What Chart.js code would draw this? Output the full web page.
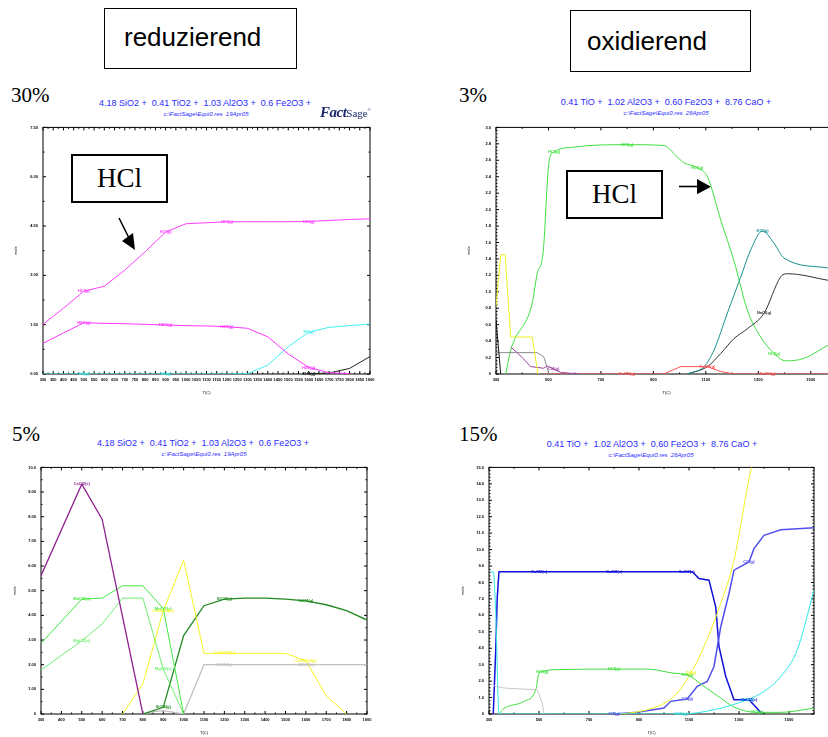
<!DOCTYPE html>
<html lang="de">
<head>
<meta charset="utf-8">
<title>HCl reduzierend / oxidierend</title>
<script src="https://cdn.jsdelivr.net/npm/chart.js@4.4.1/dist/chart.umd.min.js"></script>
<style>
  html, body { margin: 0; padding: 0; }
  body { position: relative; width: 828px; height: 737px; overflow: hidden; background: #fff; font-family: Arial, 'Liberation Sans', sans-serif; }
  .abs { position: absolute; }
  .head { border: 1.5px solid #000; box-sizing: border-box; }
  .head span { position: absolute; font-size: 26px; line-height: 26px; white-space: nowrap; }
  .pct { font-family: 'Liberation Serif', 'Times New Roman', serif; font-size: 21px; line-height: 21px; }
  .ttl { color: #2b2bff; white-space: nowrap; transform: translate(-50%, -50%); line-height: 1; }
  .ttl.main { font-size: 9px; }
  .ttl.sub { font-size: 6px; font-style: italic; }
  .hcl { border: 2px solid #000; box-sizing: border-box; background: #fff; display: flex; align-items: center; justify-content: center; font-family: 'Liberation Serif', 'Times New Roman', serif; font-size: 27px; }
  .logo { color: #1c2a6c; white-space: nowrap; line-height: 1; }
</style>
</head>
<body>

<canvas id="c30" class="abs" width="380" height="280" style="left:0px;top:120px"></canvas>
<canvas id="c3" class="abs" width="433" height="280" style="left:414px;top:120px"></canvas>
<canvas id="c5" class="abs" width="377" height="277" style="left:0px;top:460px"></canvas>
<canvas id="c15" class="abs" width="410" height="277" style="left:414px;top:460px"></canvas>

<div class="abs head" style="left:104px;top:8px;width:193px;height:61px"><span style="left:19px;top:15px">reduzierend</span></div>
<div class="abs head" style="left:570px;top:10px;width:181px;height:62px"><span style="left:16px;top:17px">oxidierend</span></div>

<div class="abs pct" style="left:11px;top:85px">30%</div>
<div class="abs pct" style="left:459px;top:85px">3%</div>
<div class="abs pct" style="left:12px;top:424px">5%</div>
<div class="abs pct" style="left:459px;top:424px">15%</div>

<div class="abs ttl main" style="left:205px;top:103px">4.18 SiO2 +&nbsp; 0.41 TiO2 +&nbsp; 1.03 Al2O3 +&nbsp; 0.6 Fe2O3 +</div>
<div class="abs ttl sub" style="left:206px;top:114px">c:\FactSage\Equi0.res&nbsp; 19Apr05</div>
<div class="abs ttl main" style="left:666px;top:102px">0.41 TiO +&nbsp; 1.02 Al2O3 +&nbsp; 0.60 Fe2O3 +&nbsp; 8.76 CaO +</div>
<div class="abs ttl sub" style="left:666px;top:113px">c:\FactSage\Equi0.res&nbsp; 26Apr05</div>
<div class="abs ttl main" style="left:203px;top:443px">4.18 SiO2 +&nbsp; 0.41 TiO2 +&nbsp; 1.03 Al2O3 +&nbsp; 0.6 Fe2O3 +</div>
<div class="abs ttl sub" style="left:204px;top:454px">c:\FactSage\Equi0.res&nbsp; 19Apr05</div>
<div class="abs ttl main" style="left:652px;top:444px">0.41 TiO +&nbsp; 1.02 Al2O3 +&nbsp; 0.60 Fe2O3 +&nbsp; 8.76 CaO +</div>
<div class="abs ttl sub" style="left:651px;top:455px">c:\FactSage\Equi0.res&nbsp; 26Apr05</div>

<div class="abs logo" style="left:320px;top:104px"><span style="font:italic bold 15px 'Liberation Serif',serif;letter-spacing:-0.5px">Fact</span><span style="font:11px 'Liberation Serif',serif">Sage</span><sup style="font-size:4px">®</sup></div>

<div class="abs hcl" style="left:71px;top:154px;width:97px;height:49px">HCl</div>
<div class="abs hcl" style="left:566px;top:170px;width:97px;height:49px">HCl</div>

<svg class="abs" width="828" height="737" style="left:0;top:0;pointer-events:none">
  <line x1="119" y1="218" x2="129" y2="238" stroke="#000" stroke-width="1.6"/>
  <polygon points="122,241 135,250 133,233" fill="#000"/>
  <line x1="679" y1="186.5" x2="698" y2="186.5" stroke="#000" stroke-width="1.6"/>
  <polygon points="697,179 711,186.7 697,194.3" fill="#000"/>
</svg>

<script>
// --- 30 % (reduzierend) ---
const t30 = [300, 400, 500, 600, 700, 800, 900, 1000, 1100, 1200, 1300, 1400, 1500, 1600, 1700, 1800, 1900]
const hcl30 = [1.51, 2.0, 2.52, 2.67, 3.16, 3.72, 4.32, 4.57, 4.60, 4.63, 4.63, 4.63, 4.63, 4.64, 4.67, 4.70, 4.72]
const h2o30 = [0.93, 1.25, 1.56, 1.54, 1.53, 1.51, 1.49, 1.47, 1.46, 1.44, 1.39, 1.13, 0.61, 0.20, 0.04, 0.01, null]
const h2_30 = [0, 0, 0, 0, 0, 0, 0, 0, 0, 0, 0.01, 0.27, 0.83, 1.27, 1.42, 1.47, 1.52]
const ch4_30 = [null, null, null, null, null, null, null, null, null, null, null, null, null, 0.01, 0.03, 0.17, 0.53]
const xTicks30 = [300, 350, 400, 450, 500, 550, 600, 650, 700, 750, 800, 850, 900, 950, 1000, 1050, 1100, 1150, 1200, 1250, 1300, 1350, 1400, 1450, 1500, 1550, 1600, 1650, 1700, 1750, 1800, 1850, 1900]
const yLab30 = ['0.00', '1.50', '3.00', '4.50', '6.00', '7.50']

// --- 3 % (oxidierend) ---
const tHcl3 = [337, 356, 438, 457, 480, 502, 521, 597, 800, 940, 991, 1017, 1067, 1106, 1157, 1207, 1258, 1309, 1360, 1405, 1474, 1566, 1600]
const hcl3 = [0, 0.29, 0.86, 1.22, 1.49, 2.58, 2.70, 2.76, 2.79, 2.78, 2.64, 2.57, 2.51, 2.40, 1.87, 1.38, 0.78, 0.45, 0.25, 0.16, 0.19, 0.35, 0.40]
const tCacl3 = [300, 318, 335, 356, 438, 460]
const cacl3 = [0.82, 1.45, 1.45, 0.45, 0.45, 0]
const tFe3 = [300, 318]
const fe3 = [0.66, 0]
const tCaoh3 = [300, 457, 482, 502]
const caoh3 = [0.26, 0.26, 0.21, 0]
const tCl2_3 = [356, 400, 432, 482, 495, 520, 546, 616]
const cl2_3 = [0.33, 0.20, 0.09, 0.07, 0.10, 0.06, 0.02, 0]
const tFecl3 = [480, 800, 940, 1004, 1106, 1157, 1207, 1335, 1600]
const fecl3 = [0, 0, 0, 0.09, 0.09, 0.03, 0, 0, 0]
const tKcl3 = [1029, 1093, 1131, 1182, 1233, 1271, 1316, 1360, 1398, 1566, 1600]
const kcl3 = [0, 0.09, 0.29, 0.74, 1.18, 1.51, 1.74, 1.59, 1.41, 1.29, 1.27]
const tNacl3 = [1029, 1106, 1157, 1207, 1258, 1322, 1385, 1411, 1566, 1600]
const nacl3 = [0, 0.09, 0.25, 0.43, 0.55, 0.74, 1.18, 1.22, 1.14, 1.12]
const xTicksOx = [300, 500, 700, 900, 1100, 1300, 1500]
const yLab3 = ['0', '0.2', '0.4', '0.6', '0.8', '1.0', '1.2', '1.4', '1.6', '1.8', '2.0', '2.2', '2.4', '2.6', '2.8', '3.0']

// --- 5 % (reduzierend) ---
const tCacl5 = [300, 500, 600, 800]
const cacl5 = [5.61, 9.32, 7.90, 0]
const tMncl5 = [300, 500, 600, 700, 800, 900, 1000]
const mncl5 = [2.86, 4.66, 4.70, 5.20, 5.20, 4.28, 0]
const tMgcl5 = [300, 500, 600, 700, 800, 900, 1000]
const mgcl5 = [1.78, 2.97, 3.65, 4.70, 4.70, 1.82, 0]
const tCasi5 = [700, 800, 900, 1000, 1100, 1200, 1500, 1600, 1700, 1800]
const casi5 = [0, 1.22, 4.19, 6.24, 2.46, 2.46, 2.46, 2.16, 0.74, 0]
const tSicl5 = [800, 900, 1000, 1100, 1200, 1300, 1400, 1500, 1600, 1700, 1800, 1900]
const sicl5 = [0, 0.27, 3.18, 4.39, 4.66, 4.70, 4.70, 4.66, 4.59, 4.43, 4.19, 3.81]
const tAl5 = [800, 850, 900, 1000, 1100, 1200, 1600, 1900]
const al5 = [0, 0.10, 0.14, 0, 2.0, 2.0, 2.0, 2.0]
const xTicks5 = [300, 400, 500, 600, 700, 800, 900, 1000, 1100, 1200, 1300, 1400, 1500, 1600, 1700, 1800, 1900]
const yLab5 = ['0', '1.00', '2.00', '3.00', '4.00', '5.00', '6.00', '7.00', '8.00', '9.00', '10.0']

// --- 15 % (oxidierend) ---
const tCacl15 = [317, 327, 333, 340, 500, 800, 1090, 1113, 1140, 1180, 1207, 1220, 1247, 1280, 1340, 1367, 1393]
const cacl15 = [0, 3.9, 7.1, 8.65, 8.65, 8.65, 8.65, 8.65, 8.24, 8.14, 6.5, 4.1, 2.28, 0.87, 0.87, 0.42, 0]
const tCl2_15 = [800, 893, 1000, 1027, 1093, 1133, 1173, 1200, 1227, 1260, 1280, 1340, 1360, 1400, 1467, 1600]
const cl2_15 = [0, 0.10, 0.36, 0.77, 0.91, 1.68, 1.98, 2.89, 5.31, 7.33, 8.75, 9.25, 10.06, 10.87, 11.21, 11.33]
const tO2_15 = [827, 933, 1040, 1107, 1160, 1227, 1280, 1347, 1380]
const o2_15 = [0, 0.26, 1.07, 2.48, 4.10, 6.73, 9.35, 14.8, 16.5]
const tHcl15 = [340, 353, 440, 487, 500, 513, 553, 800, 933, 1040, 1093, 1160, 1227, 1280, 1373, 1467, 1600]
const hcl15 = [0, 0.26, 0.77, 1.47, 2.48, 2.59, 2.69, 2.73, 2.73, 2.48, 2.38, 1.68, 0.97, 0.42, 0.10, 0.10, 0.36]
const tH2o15 = [304, 317, 327, 340, 1067, 1200, 1333, 1400, 1467, 1533, 1600]
const h2o15 = [8.65, 8.65, 6.12, 0, 0, 0.26, 0.87, 1.37, 2.28, 3.90, 7.54]
const tCaoh15 = [300, 327, 360, 493, 513, 520]
const caoh15 = [1.88, 1.68, 1.58, 1.47, 0.67, 0]
const yLab15 = ['0', '1.0', '2.0', '3.0', '4.0', '5.0', '6.0', '7.0', '8.0', '9.0', '10.0', '11.0', '12.0', '13.0', '14.0', '15.0']

// frame with inward major/minor ticks on all four sides
const frame = {
	id: 'frame',
	beforeDatasetsDraw(chart, args, opts) {
		const { ctx, chartArea: a, scales } = chart
		const walk = (scale, n, draw) => {
			const v = scale.ticks.map(t => t.value)
			const step = (v[1] - v[0]) / n
			for (let k = 0; v[0] + k * step <= scale.max + 1e-9; k++) {
				draw(scale.getPixelForValue(v[0] + k * step), k % n === 0 ? 3 : 1.5)
			}
		}
		ctx.save()
		ctx.strokeStyle = '#000'
		ctx.lineWidth = 1
		ctx.strokeRect(a.left, a.top, a.right - a.left, a.bottom - a.top)
		ctx.beginPath()
		walk(scales.x, opts.minorX, (p, len) => {
			ctx.moveTo(p, a.bottom); ctx.lineTo(p, a.bottom - len)
			ctx.moveTo(p, a.top); ctx.lineTo(p, a.top + len)
		})
		walk(scales.y, opts.minorY, (p, len) => {
			ctx.moveTo(a.left, p); ctx.lineTo(a.left + len, p)
			ctx.moveTo(a.right, p); ctx.lineTo(a.right - len, p)
		})
		ctx.stroke()
		ctx.restore()
	},
}

// FactSage style species names sitting on the curves
const tags = {
	id: 'tags',
	afterDatasetsDraw(chart) {
		const { ctx } = chart
		ctx.save()
		ctx.font = 'bold 4px Arial'
		ctx.textAlign = 'center'
		ctx.textBaseline = 'middle'
		chart.data.datasets.forEach((ds, i) => {
			if (!ds.tags) return
			const pts = chart.getDatasetMeta(i).data
			ctx.fillStyle = ds.borderColor
			ds.tags.forEach(k => pts[k] && ctx.fillText(ds.label, pts[k].x, pts[k].y))
		})
		ctx.restore()
	},
}

function makeChart(id, cfg) {
	const datasets = cfg.series.map(s => ({
		label: s.name,
		data: s.x.map((v, i) => ({ x: v, y: s.y[i] })),
		borderColor: s.color,
		borderWidth: s.width || 1,
		pointRadius: 0,
		tension: 0,
		cubicInterpolationMode: s.smooth ? 'monotone' : 'default',
		tags: s.tags,
	}))
	const yVals = cfg.yLabels.map(Number)
	const small = { size: 4, weight: 'bold', family: 'Arial' }
	return new Chart(document.getElementById(id), {
		type: 'line',
		data: { datasets },
		options: {
			responsive: false,
			animation: false,
			events: [],
			layout: { padding: cfg.pad },
			plugins: {
				legend: { display: false },
				tooltip: { enabled: false },
				frame: { minorX: cfg.minorX, minorY: cfg.minorY },
			},
			scales: {
				x: {
					type: 'linear',
					min: cfg.xMin,
					max: cfg.xMax,
					afterBuildTicks: s => { s.ticks = cfg.xTicks.map(v => ({ value: v })) },
					afterFit: s => { s.height = cfg.xh },
					grid: { display: false, drawTicks: false },
					border: { display: false },
					ticks: { autoSkip: false, maxRotation: 0, padding: 3, font: small, color: '#000', callback: v => String(v) },
					title: { display: true, text: 'T(C)', font: { size: 4, family: 'Arial' }, color: '#000', padding: cfg.xTitlePad },
				},
				y: {
					type: 'linear',
					min: yVals[0],
					max: yVals[yVals.length - 1],
					afterBuildTicks: s => { s.ticks = yVals.map(v => ({ value: v })) },
					afterFit: s => { s.width = cfg.yw },
					grid: { display: false, drawTicks: false },
					border: { display: false },
					ticks: { autoSkip: false, padding: 5, font: small, color: '#000', callback: (v, i) => cfg.yLabels[i] },
					title: { display: true, text: 'mole', font: { size: 4, family: 'Arial' }, color: '#000', padding: 1 },
				},
			},
		},
		plugins: [frame, tags],
	})
}

makeChart('c30', {
	pad: { left: 12, top: 7, right: 10, bottom: 0 }, yw: 31, xh: 26, xTitlePad: 5,
	xMin: 300, xMax: 1900, xTicks: xTicks30, yLabels: yLab30, minorX: 2, minorY: 2,
	series: [
		{ name: 'HCl(g)', x: t30, y: hcl30, color: '#ff40ff', tags: [2, 6, 9, 13] },
		{ name: 'H2O(g)', x: t30, y: h2o30, color: '#ff33ff', tags: [2, 6, 9, 13] },
		{ name: 'H2(g)', x: t30, y: h2_30, color: '#40f0f0', tags: [2, 6, 13] },
		{ name: 'CH4(g)', x: t30, y: ch4_30, color: '#222222', tags: [13] },
	],
})

makeChart('c3', {
	pad: { left: 51, top: 7, right: 10, bottom: 0 }, yw: 31, xh: 26, xTitlePad: 5,
	xMin: 300, xMax: 1600, xTicks: xTicksOx, yLabels: yLab3, minorX: 2, minorY: 5,
	series: [
		{ name: 'CaCl2(s)', x: tCacl3, y: cacl3, color: '#f0f020' },
		{ name: 'Fe(s)', x: tFe3, y: fe3, color: '#111111' },
		{ name: 'CaClOH(s)', x: tCaoh3, y: caoh3, color: '#8c8c8c' },
		{ name: 'Cl2(g)', x: tCl2_3, y: cl2_3, color: '#a040a0', tags: [5] },
		{ name: 'FeCl3(g)', x: tFecl3, y: fecl3, color: '#ff5050', tags: [1, 4, 7] },
		{ name: 'KCl(g)', x: tKcl3, y: kcl3, color: '#1a9090', smooth: true, tags: [6] },
		{ name: 'NaCl(g)', x: tNacl3, y: nacl3, color: '#333333', smooth: true, tags: [5] },
		{ name: 'HCl(g)', x: tHcl3, y: hcl3, color: '#40e040', smooth: true, tags: [6, 8, 12, 18] },
	],
})

makeChart('c5', {
	pad: { left: 11, top: 7, right: 10, bottom: 0 }, yw: 30, xh: 23, xTitlePad: 1.6,
	xMin: 300, xMax: 1900, xTicks: xTicks5, yLabels: yLab5, minorX: 2, minorY: 2,
	series: [
		{ name: 'CaCl2(s)', x: tCacl5, y: cacl5, color: '#902090', width: 1.3, tags: [1] },
		{ name: 'MnCl2(s)', x: tMncl5, y: mncl5, color: '#40e840', tags: [1, 5] },
		{ name: 'MgCl2(s)', x: tMgcl5, y: mgcl5, color: '#70f070', tags: [1, 5] },
		{ name: 'Ca2SiO4(s)', x: tCasi5, y: casi5, color: '#f5f520', tags: [2, 5, 7] },
		{ name: 'SiCl4(g)', x: tSicl5, y: sicl5, color: '#208a20', width: 1.3, tags: [1, 4, 8] },
		{ name: 'Al2O3(s)', x: tAl5, y: al5, color: '#c0c0c0', width: 1.3, tags: [5, 6] },
	],
})

makeChart('c15', {
	pad: { left: 45, top: 7, right: 10, bottom: 0 }, yw: 30, xh: 23, xTitlePad: 1.6,
	xMin: 300, xMax: 1600, xTicks: xTicksOx, yLabels: yLab15, minorX: 2, minorY: 5,
	series: [
		{ name: 'CaClOH(s)', x: tCaoh15, y: caoh15, color: '#c8c8c8' },
		{ name: 'H2O(g)', x: tH2o15, y: h2o15, color: '#30e8e8', smooth: true, tags: [4, 6] },
		{ name: 'HCl(g)', x: tHcl15, y: hcl15, color: '#40e040', smooth: true, tags: [5, 7, 10, 14] },
		{ name: 'O2(g)', x: tO2_15, y: o2_15, color: '#f0f020', smooth: true, tags: [3] },
		{ name: 'Cl2(g)', x: tCl2_15, y: cl2_15, color: '#5050f0', width: 1.5, tags: [0, 4, 11] },
		{ name: 'CaCl2(s)', x: tCacl15, y: cacl15, color: '#1010d8', width: 1.5, tags: [4, 5, 6, 14] },
	],
})
</script>
</body>
</html>
